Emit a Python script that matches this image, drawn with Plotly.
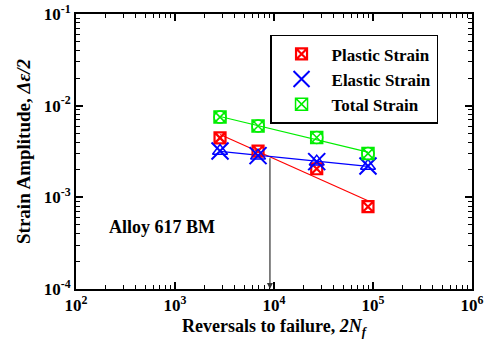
import numpy as np
import plotly.graph_objects as go

reversals = [2850, 6900, 27000, 89000]
plastic = [4.45e-3, 3.2e-3, 2.05e-3, 7.9e-4]
elastic = [3.2e-3, 2.85e-3, 2.45e-3, 2.2e-3]
total = [7.5e-3, 6.0e-3, 4.5e-3, 3.0e-3]
transition_life = 9100
x_tick_vals = [1e2, 1e3, 1e4, 1e5, 1e6]
x_tick_text = ["10<sup>2</sup>", "10<sup>3</sup>", "10<sup>4</sup>", "10<sup>5</sup>", "10<sup>6</sup>"]
y_tick_vals = [1e-4, 1e-3, 1e-2, 1e-1]
y_tick_text = ["10<sup>-4</sup>", "10<sup>-3</sup>", "10<sup>-2</sup>", "10<sup>-1</sup>"]

FONT = "Liberation Serif"

def fit(x, y):
    lx, ly = np.log10(x), np.log10(y)
    b, a = np.polyfit(lx, ly, 1)
    xs = np.array([x[0], x[-1]])
    return xs, 10 ** (a + b * np.log10(xs)), (a, b)

fig = go.Figure()

series = [
    ("Plastic Strain", plastic, "red"),
    ("Elastic Strain", elastic, "blue"),
    ("Total Strain", total, "#00ee00"),
]
coefs = {}
for name, ys, col in series:
    xs, yf, c = fit(reversals, ys)
    coefs[name] = c
    fig.add_trace(go.Scatter(x=xs, y=yf, mode="lines", line=dict(color=col, width=1.2),
                             showlegend=False, hoverinfo="skip"))

# markers
fig.add_trace(go.Scatter(x=reversals, y=plastic, mode="markers", name="Plastic Strain",
                         marker=dict(symbol="square-x-open", size=11, color="red", line=dict(width=2.2, color="red"))))
fig.add_trace(go.Scatter(x=reversals, y=elastic, mode="markers", name="Elastic Strain",
                         marker=dict(symbol="x-thin-open", size=17, color="blue", line=dict(width=2, color="blue"))))
fig.add_trace(go.Scatter(x=reversals, y=elastic, mode="markers", showlegend=False,
                         marker=dict(symbol="triangle-up-open", size=13, color="blue", line=dict(width=1.5, color="blue"))))
fig.add_trace(go.Scatter(x=reversals, y=total, mode="markers", name="Total Strain",
                         marker=dict(symbol="square-x-open", size=12, color="#00ee00", line=dict(width=1.5, color="#00ee00"))))
fig.add_trace(go.Scatter(x=reversals, y=total, mode="markers", showlegend=False,
                         marker=dict(symbol="circle-open", size=12, color="#00ee00", line=dict(width=1.5, color="#00ee00"))))

# transition arrow
ap, bp = coefs["Plastic Strain"]
y_int = 10 ** (ap + bp * np.log10(transition_life))
fig.add_annotation(x=np.log10(transition_life), y=-4, ax=np.log10(transition_life), ay=np.log10(y_int),
                   xref="x", yref="y", axref="x", ayref="y", showarrow=True, arrowhead=2,
                   arrowsize=1, arrowwidth=1.2, arrowcolor="#333333", text="")

fig.add_annotation(x=np.log10(740), y=np.log10(4.7e-4), xref="x", yref="y", showarrow=False,
                   text="<b>Alloy 617 BM</b>", font=dict(family=FONT, size=18, color="black"))

minor_x = [m * 10 ** k for k in range(2, 6) for m in range(2, 10)]
minor_y = [m * 10 ** k for k in range(-4, -1) for m in range(2, 10)]

axis_common = dict(type="log", showline=True, linecolor="black", linewidth=2, mirror="allticks",
                   ticks="inside", ticklen=7, tickwidth=1.5, tickcolor="black", showgrid=False,
                   zeroline=False, automargin=False,
                   tickfont=dict(family=FONT, size=17, color="black", weight="bold"))

fig.update_xaxes(range=[2, 6], tickvals=x_tick_vals, ticktext=x_tick_text,
                 minor=dict(tickvals=minor_x, ticks="inside", ticklen=4, tickwidth=1, tickcolor="black"),
                 title=dict(text="<b>Reversals to failure, <i>2N<sub>f</sub></i></b>",
                            font=dict(family=FONT, size=18, color="black"), standoff=5),
                 **axis_common)
fig.update_yaxes(range=[-4, -1], tickvals=y_tick_vals, ticktext=y_tick_text,
                 minor=dict(tickvals=minor_y, ticks="inside", ticklen=4, tickwidth=1, tickcolor="black"),
                 title=dict(text="<b>Strain Amplitude, <i>Δε/2</i></b>",
                            font=dict(family=FONT, size=19, color="black"), standoff=8),
                 **axis_common)

fig.update_layout(
    width=488, height=347,
    margin=dict(l=76, r=16, t=14, b=58),
    plot_bgcolor="white", paper_bgcolor="white",
    legend=dict(x=0.49, y=0.924, xanchor="left", yanchor="top", bordercolor="black", borderwidth=1.5,
                font=dict(family=FONT, size=17, color="black", weight="bold"), bgcolor="white",
                tracegroupgap=0, itemwidth=50),
)

fig.write_html("out.html", config={"displayModeBar": False},
               post_script="document.body.style.margin='0';document.body.style.overflow='hidden';")
